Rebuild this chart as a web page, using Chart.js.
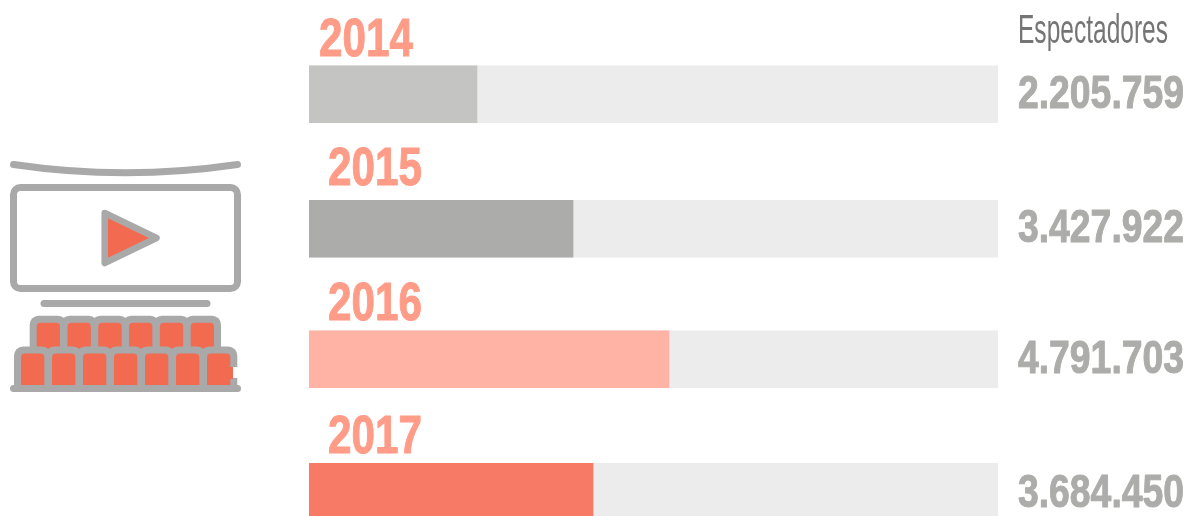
<!DOCTYPE html>
<html>
<head>
<meta charset="utf-8">
<script src="https://cdn.jsdelivr.net/npm/chart.js@4"></script>
<style>
  html, body { margin: 0; padding: 0; background: #fff; overflow: hidden; height: 516px; }
  #wrap { width: 1189px; height: 560px; }
</style>
</head>
<body>
<div id="wrap"><canvas id="chart" width="1189" height="560"></canvas></div>
<script>
const years = ['2014', '2015', '2016', '2017'];
const espectadores = [2205759, 3427922, 4791703, 3684450];
// bar lengths as drawn in the picture, they don't follow the printed totals exactly
const barValues = [2194000, 3449000, 4702000, 3710000];
const trackValues = [9000000, 9000000, 9000000, 9000000];
const barColors = ['#c4c4c2', '#acacaa', '#ffb3a5', '#f77a66'];

const FONT = "'Liberation Sans Narrow', 'Liberation Sans', sans-serif";
const GRAY = '#a9a9a9';
const SEAT = '#f26a50';

// the rows in the picture are not evenly spaced
const rowNudge = [0, 2, 0, 0];
// label offsets from each bar
const yearOffsets = [{ x: 10, y: -10 }, { x: 19, y: -15 }, { x: 19, y: -11 }, { x: 19, y: -10 }];
const valueOffsets = [14, 13, 14, 15];

function seat(ctx, x, y, w, h) {
  ctx.fillStyle = GRAY;
  ctx.beginPath();
  ctx.roundRect(x - 7, y - 7, w + 14, h + 7, [9, 9, 0, 0]);
  ctx.fill();
  ctx.fillStyle = SEAT;
  ctx.beginPath();
  ctx.roundRect(x, y, w, h, [4, 4, 0, 0]);
  ctx.fill();
}

function drawIcon(ctx) {
  ctx.save();
  ctx.lineCap = 'round';
  ctx.lineJoin = 'round';
  ctx.strokeStyle = GRAY;
  ctx.lineWidth = 7;

  ctx.beginPath();
  ctx.moveTo(13.5, 164.5);
  ctx.quadraticCurveTo(125, 181, 237.5, 164.5);
  ctx.stroke();

  ctx.beginPath();
  ctx.roundRect(13.5, 187.5, 224, 101, 7);
  ctx.stroke();

  ctx.fillStyle = SEAT;
  ctx.lineWidth = 6.5;
  ctx.beginPath();
  ctx.moveTo(104.7, 213);
  ctx.lineTo(156.5, 238);
  ctx.lineTo(104.7, 263);
  ctx.closePath();
  ctx.fill();
  ctx.stroke();

  ctx.lineWidth = 7;
  ctx.beginPath();
  ctx.moveTo(44, 303.5);
  ctx.lineTo(207, 303.5);
  ctx.stroke();

  for (let i = 0; i < 6; i++) seat(ctx, 36.7 + 30.8 * i, 322.7, 23.3, 28);
  for (let i = 0; i < 7; i++) seat(ctx, 21 + 31 * i, 353.5, 23.3, 32);

  // gap in the outline of the last seat
  ctx.fillStyle = SEAT;
  ctx.fillRect(229, 367, 4, 12);
  ctx.fillStyle = '#fff';
  ctx.fillRect(233, 367, 6, 11);

  ctx.strokeStyle = GRAY;
  ctx.beginPath();
  ctx.moveTo(13.5, 388.5);
  ctx.lineTo(237.5, 388.5);
  ctx.stroke();
  ctx.restore();
}

function boldText(ctx, text, x, y, maxWidth) {
  ctx.strokeText(text, x, y, maxWidth);
  ctx.fillText(text, x, y, maxWidth);
}

const labelsPlugin = {
  id: 'labels',
  afterDatasetsUpdate(chart) {
    chart.data.datasets.forEach((ds, d) => {
      chart.getDatasetMeta(d).data.forEach((bar, i) => { bar.y += rowNudge[i]; });
    });
  },
  afterDatasetsDraw(chart) {
    const { ctx } = chart;
    const track = chart.getDatasetMeta(1).data;
    ctx.save();
    ctx.textBaseline = 'alphabetic';
    ctx.textAlign = 'left';

    ctx.font = '400 40px ' + FONT;
    ctx.fillStyle = '#757575';
    ctx.fillText('Espectadores', 1018, 43, 150);

    ctx.lineWidth = 1;
    ctx.lineJoin = 'round';
    track.forEach((bar, i) => {
      const top = bar.y - bar.height / 2;
      ctx.font = '700 53px ' + FONT;
      ctx.fillStyle = ctx.strokeStyle = '#ff9c88';
      boldText(ctx, years[i], chart.chartArea.left + yearOffsets[i].x, top + yearOffsets[i].y, 94);

      ctx.font = '700 46px ' + FONT;
      ctx.fillStyle = ctx.strokeStyle = '#acacaa';
      boldText(ctx, espectadores[i].toLocaleString('de-DE'), 1018, bar.y + valueOffsets[i], 166);
    });
    ctx.restore();
    drawIcon(ctx);
  }
};

new Chart(document.getElementById('chart'), {
  type: 'bar',
  data: {
    labels: years,
    datasets: [
      { label: 'Espectadores', data: barValues, backgroundColor: barColors, order: 1 },
      { label: 'Fondo', data: trackValues, backgroundColor: '#ececec', order: 2 },
    ],
  },
  plugins: [labelsPlugin],
  options: {
    indexAxis: 'y',
    responsive: false,
    animation: false,
    layout: { padding: { left: 309, right: 191, top: 28, bottom: 2 } },
    datasets: { bar: { barThickness: 57, grouped: false, borderWidth: 0 } },
    plugins: { legend: { display: false }, tooltip: { enabled: false } },
    scales: {
      x: { display: false, min: 0, max: 9000000 },
      y: { display: false },
    },
  },
});
</script>
</body>
</html>
